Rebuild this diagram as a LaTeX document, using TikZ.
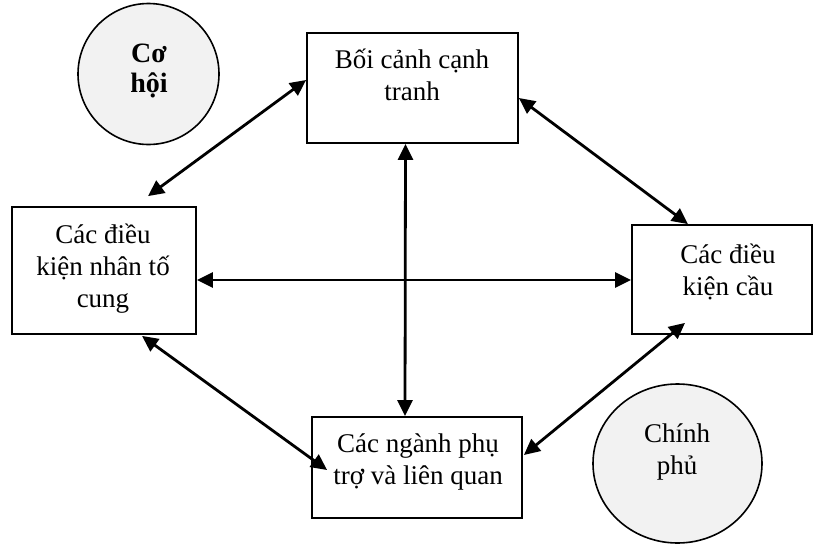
\documentclass[tikz,border=0pt]{standalone}
\usepackage{fontspec}
\setmainfont{Liberation Serif}
\usetikzlibrary{arrows.meta,shapes.geometric}
\begin{document}
\begin{tikzpicture}[x=1pt,y=-1pt,
  box/.style={draw=black,line width=1.8pt,rectangle,inner sep=0pt},
  disc/.style={draw=black,line width=1.6pt,fill=black!5,ellipse,inner sep=0pt},
  lbl/.style={anchor=base,inner sep=0pt,font=\fontsize{27}{32}\selectfont},
  biarrow/.style={line width=2.8pt,{Triangle[length=16pt,width=15pt]}-{Triangle[length=16pt,width=15pt]}}]
\useasboundingbox (0,0) rectangle (814,544);

% circles: outside influences
\node[disc,minimum width=141pt,minimum height=141pt] (coh) at (148.5,74) {};
\node[disc,minimum width=169pt,minimum height=159pt] (cp) at (677.5,463.5) {};

% the four boxes of the diamond
\node[box,minimum width=211pt,minimum height=110pt] (bc) at (412.5,88) {};
\node[box,minimum width=184pt,minimum height=127pt] (lb) at (104,270.5) {};
\node[box,minimum width=180pt,minimum height=109pt] (rb) at (722,279.5) {};
\node[box,minimum width=210pt,minimum height=101pt] (bm) at (417,467.5) {};

% labels
\node[lbl,font=\fontsize{28}{30}\bfseries] (tcoh) at (149,62) {\begin{tabular}[t]{@{}c@{}}Cơ\\hội\end{tabular}};
\node[lbl] (tcp) at (677,442) {\begin{tabular}[t]{@{}c@{}}Chính\\phủ\end{tabular}};
\node[lbl] (tbc) at (412,68) {\begin{tabular}[t]{@{}c@{}}Bối cảnh cạnh\\tranh\end{tabular}};
\node[lbl] (tlb) at (103,243) {\begin{tabular}[t]{@{}c@{}}Các điều\\kiện nhân tố\\cung\end{tabular}};
\node[lbl] (trb) at (728,263) {\begin{tabular}[t]{@{}c@{}}Các điều\\kiện cầu\end{tabular}};
\node[lbl] (tbm) at (418,452) {\begin{tabular}[t]{@{}c@{}}Các ngành phụ\\trợ và liên quan\end{tabular}};

% two-way links
\draw[biarrow] ([xshift=44pt,yshift=10pt]lb.north) -- ([yshift=8pt]bc.west);
\draw[biarrow] ([yshift=-10pt]bc.east) -- ([xshift=-34pt]rb.north);
\draw[biarrow] ([xshift=-7pt]bc.south) -- ([xshift=-12pt]bm.north);
\draw[biarrow] ([yshift=-9.5pt]lb.east) -- ([yshift=-0.5pt]rb.west);
\draw[biarrow] ([xshift=38pt,yshift=-1pt]lb.south) -- ([xshift=16pt,yshift=-2.5pt]bm.west);
\draw[biarrow] ([xshift=-37pt,yshift=12pt]rb.south) -- ([xshift=1pt,yshift=12.5pt]bm.east);
\end{tikzpicture}
\end{document}
